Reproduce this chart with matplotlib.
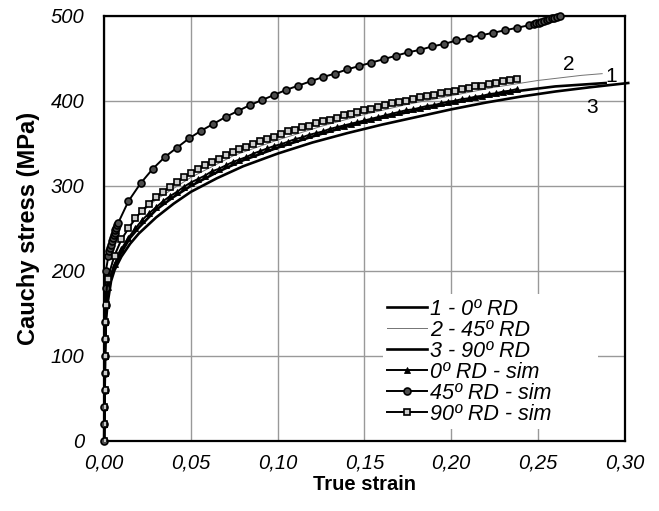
import numpy as np
import matplotlib
matplotlib.use("Agg")
import matplotlib.pyplot as plt

plt.rcParams['font.family'] = ['Liberation Sans', 'DejaVu Sans']

### experimental curves ###
strain_0rd = [0, 0.0005, 0.001, 0.002, 0.004, 0.006, 0.01, 0.015, 0.02, 0.03, 0.04, 0.05,
              0.065, 0.08, 0.1, 0.12, 0.14, 0.16, 0.18, 0.2, 0.22, 0.24, 0.26, 0.289]
stress_0rd = [0, 100, 150, 180, 196, 206, 222, 239, 251, 272, 287, 300,
              316, 330, 345, 358, 370, 380, 389, 397, 405, 412, 417, 421]

strain_45rd = [0, 0.0005, 0.001, 0.002, 0.005, 0.01, 0.02, 0.03, 0.05, 0.075, 0.1,
               0.125, 0.15, 0.175, 0.2, 0.225, 0.25, 0.275, 0.287]
stress_45rd = [0, 100, 160, 185, 215, 238, 266, 284, 310, 336, 354,
               370, 384, 396, 406, 416, 424, 430, 432]

strain_90rd = [0, 0.0005, 0.001, 0.002, 0.004, 0.006, 0.01, 0.015, 0.02, 0.03, 0.04, 0.05,
               0.065, 0.08, 0.1, 0.12, 0.14, 0.16, 0.18, 0.2, 0.22, 0.24, 0.26, 0.28, 0.302]
stress_90rd = [0, 100, 140, 162, 188, 201, 217, 232, 244, 263, 279, 293,
               309, 323, 338, 351, 362, 372, 381, 390, 398, 405, 411, 416, 421]

### simulations ###
strain_0sim = [0, 0.0001, 0.0002, 0.0003, 0.0004, 0.0005, 0.0006, 0.0007, 0.0008,
               0.002, 0.006, 0.010, 0.014, 0.018, 0.022, 0.026, 0.030, 0.034, 0.038,
               0.042, 0.046, 0.050, 0.054, 0.058, 0.062, 0.066, 0.070, 0.074, 0.078,
               0.082, 0.086, 0.090, 0.094, 0.098, 0.102, 0.106, 0.110, 0.114, 0.118,
               0.122, 0.126, 0.130, 0.134, 0.138, 0.142, 0.146, 0.150, 0.154, 0.158,
               0.162, 0.166, 0.170, 0.174, 0.178, 0.182, 0.186, 0.190, 0.194, 0.198,
               0.202, 0.206, 0.210, 0.214, 0.218, 0.222, 0.226, 0.230, 0.234, 0.238]
stress_0sim = [0, 20, 40, 60, 80, 100, 120, 140, 160,
               181, 208, 226, 239, 250, 260, 268, 275, 282, 288,
               293, 299, 304, 308, 312, 317, 320, 324, 328, 331,
               334, 338, 341, 344, 347, 349, 352, 355, 357, 360,
               362, 364, 367, 369, 371, 373, 375, 377, 379, 381,
               383, 385, 387, 389, 390, 392, 394, 395, 397, 399,
               400, 402, 403, 405, 406, 408, 409, 411, 412, 414]

strain_45sim = [0, 0.0001, 0.0002, 0.0003, 0.0004, 0.0005, 0.0006, 0.0007, 0.0008, 0.0009, 0.001,
                0.0025, 0.003, 0.0035, 0.004, 0.0045, 0.005, 0.0055, 0.006, 0.0065, 0.007, 0.0075, 0.008,
                0.014, 0.021, 0.028, 0.035, 0.042, 0.049, 0.056, 0.063, 0.070, 0.077,
                0.084, 0.091, 0.098, 0.105, 0.112, 0.119, 0.126, 0.133, 0.140, 0.147,
                0.154, 0.161, 0.168, 0.175, 0.182, 0.189, 0.196, 0.203, 0.210, 0.217,
                0.224, 0.231, 0.238, 0.245,
                0.2475, 0.249, 0.2505, 0.252, 0.2535, 0.255, 0.2565, 0.258, 0.2595, 0.261, 0.2625]
stress_45sim = [0, 20, 40, 60, 80, 100, 120, 140, 160, 180, 200,
                218, 223, 227, 231, 235, 239, 242, 245, 248, 251, 254, 256,
                282, 303, 320, 334, 345, 356, 365, 373, 381, 388,
                395, 401, 407, 413, 418, 423, 428, 432, 437, 441,
                445, 449, 453, 457, 460, 464, 467, 471, 474, 477,
                480, 483, 486, 489,
                490, 491, 492, 493, 494, 495, 496, 497, 498, 499, 500]

strain_90sim = [0, 0.0001, 0.0002, 0.0003, 0.0004, 0.0005, 0.0006, 0.0007, 0.0008,
                0.002, 0.006, 0.010, 0.014, 0.018, 0.022, 0.026, 0.030, 0.034, 0.038,
                0.042, 0.046, 0.050, 0.054, 0.058, 0.062, 0.066, 0.070, 0.074, 0.078,
                0.082, 0.086, 0.090, 0.094, 0.098, 0.102, 0.106, 0.110, 0.114, 0.118,
                0.122, 0.126, 0.130, 0.134, 0.138, 0.142, 0.146, 0.150, 0.154, 0.158,
                0.162, 0.166, 0.170, 0.174, 0.178, 0.182, 0.186, 0.190, 0.194, 0.198,
                0.202, 0.206, 0.210, 0.214, 0.218, 0.222, 0.226, 0.230, 0.234, 0.238]
stress_90sim = [0, 20, 40, 60, 80, 100, 120, 140, 160,
                191, 218, 237, 250, 262, 271, 279, 287, 293, 299,
                305, 310, 315, 320, 324, 328, 332, 336, 340, 343,
                346, 349, 353, 355, 358, 361, 364, 366, 369, 371,
                374, 376, 378, 380, 383, 385, 387, 389, 391, 393,
                395, 397, 399, 400, 402, 404, 406, 407, 409, 410,
                412, 414, 415, 417, 418, 420, 421, 423, 424, 426]

xticks = [0.00, 0.05, 0.10, 0.15, 0.20, 0.25, 0.30]
xticklabels = ['0,00', '0,05', '0,10', '0,15', '0,20', '0,25', '0,30']
yticks = [0, 100, 200, 300, 400, 500]

### figure ###
fig = plt.figure(figsize=(6.59, 5.11), dpi=100)
ax = fig.add_axes([0.158, 0.137, 0.79, 0.832])

ax.plot(strain_0rd, stress_0rd, color='k', lw=1.9, label='1 - 0º RD', zorder=3)
ax.plot(strain_45rd, stress_45rd, color='0.45', lw=0.7, label='2 - 45º RD', zorder=3)
ax.plot(strain_90rd, stress_90rd, color='k', lw=1.9, label='3 - 90º RD', zorder=3,
        clip_on=False)

ax.plot(strain_0sim, stress_0sim, color='k', lw=1.4, marker='^', ms=5.0,
        mfc='k', mec='k', mew=0.6, label='0º RD - sim', zorder=4)
ax.plot(strain_45sim, stress_45sim, color='k', lw=1.4, marker='o', ms=5.0,
        mfc='0.3', mec='k', mew=1.2, label='45º RD - sim', zorder=4, clip_on=False)
ax.plot(strain_90sim, stress_90sim, color='k', lw=1.4, marker='s', ms=4.8,
        mfc='0.8', mec='k', mew=1.2, label='90º RD - sim', zorder=4)

ax.text(0.292, 429, '1', fontsize=15, ha='center', va='center')
ax.text(0.268, 443, '2', fontsize=15, ha='center', va='center')
ax.text(0.281, 392, '3', fontsize=15, ha='center', va='center')

ax.set_xlim(0, 0.30)
ax.set_ylim(0, 500)
ax.set_xticks(xticks)
ax.set_xticklabels(xticklabels, fontstyle='italic', fontsize=14.5)
ax.set_yticks(yticks)
ax.set_yticklabels([str(v) for v in yticks], fontstyle='italic', fontsize=14.5)
ax.tick_params(axis='x', length=0, pad=9)
ax.tick_params(axis='y', length=0, pad=14)
ax.grid(True, color='0.6', lw=1.0)
ax.set_axisbelow(True)
for s in ax.spines.values():
    s.set_linewidth(1.6)

ax.set_xlabel('True strain', fontsize=14.5, fontweight='bold', labelpad=2)
ax.set_ylabel('Cauchy stress (MPa)', fontsize=17, fontweight='bold', labelpad=8)

leg = ax.legend(loc='lower left', bbox_to_anchor=(0.535, 0.028, 0.413, 0.3),
                mode='expand', frameon=True, fancybox=False, edgecolor='none',
                facecolor='white', framealpha=1,
                prop={'style': 'italic', 'size': 15.5}, handlelength=1.85,
                handletextpad=0.15, labelspacing=0.0, borderpad=0.2,
                borderaxespad=0.0)

plt.savefig('out.png', dpi=100)
